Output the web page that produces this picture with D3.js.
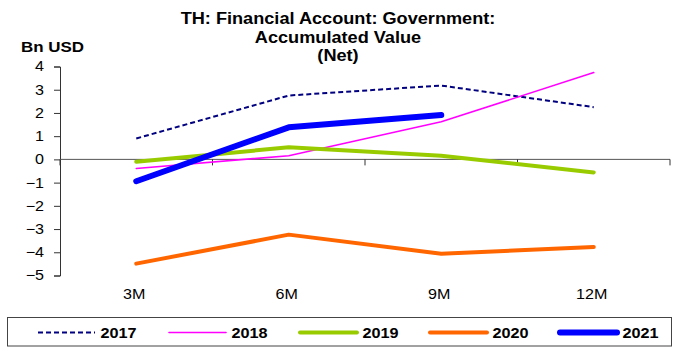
<!DOCTYPE html>
<html>
<head>
<meta charset="utf-8">
<script src="https://cdn.jsdelivr.net/npm/d3@7"></script>
<style>
  body { margin: 0; background: #fff; }
  svg { display: block; font-family: "Liberation Sans", Arial, sans-serif; }
</style>
</head>
<body>
<svg id="chart" width="676" height="352"></svg>
<script>
// Quarterly accumulated values, Bn USD
const periods = ["3M", "6M", "9M", "12M"];
const yTicks = [4, 3, 2, 1, 0, -1, -2, -3, -4, -5];
const years = ["2017", "2018", "2019", "2020", "2021"];
const v2017 = [0.9, 2.75, 3.18, 2.25];
const v2018 = [-0.39, 0.16, 1.62, 3.74];
const v2019 = [-0.1, 0.52, 0.16, -0.56];
const v2020 = [-4.49, -3.24, -4.06, -3.77];
const v2021 = [-0.94, 1.38, 1.91];

const seriesStyle = [
  { name: "2017", values: v2017, color: "#000080", width: 2, dash: "5,3" },
  { name: "2018", values: v2018, color: "#ff00ff", width: 1.6, dash: null },
  { name: "2019", values: v2019, color: "#99cc00", width: 4, dash: null },
  { name: "2020", values: v2020, color: "#ff6600", width: 4, dash: null },
  { name: "2021", values: v2021, color: "#0000ff", width: 6, dash: null }
];

const svg = d3.select("#chart");
const plotLeft = 60, plotRight = 670, plotTop = 66.5, plotBottom = 275.5;

const x = d3.scaleBand().domain(periods).range([plotLeft, plotRight]);
const y = d3.scaleLinear().domain([-5, 4]).range([plotBottom, plotTop]);

// Widen text horizontally, keeping its anchor point in place
function widen(sel, k) {
  sel.each(function () {
    const t = d3.select(this);
    const tx = +t.attr("x") || 0, ty = +t.attr("y") || 0;
    t.attr("x", 0).attr("y", 0)
      .attr("transform", `translate(${tx},${ty}) scale(${k},1)`);
  });
}

// Title
const title = svg.append("text").attr("text-anchor", "middle")
  .attr("font-weight", "bold").attr("font-size", 16.5).attr("fill", "#000")
  .attr("transform", "translate(338,0) scale(1.1,1)");
["TH: Financial Account: Government:", "Accumulated Value", "(Net)"].forEach((t, i) => {
  title.append("tspan").attr("x", 0).attr("y", [24, 43.5, 61.5][i]).text(t);
});

// Unit label
svg.append("text").attr("x", 21).attr("y", 52)
  .attr("font-weight", "bold").attr("font-size", 15).text("Bn USD")
  .call(widen, 1.13);

// Y axis
const yAxis = svg.append("g").attr("transform", `translate(${plotLeft},0)`)
  .call(d3.axisLeft(y).tickValues(yTicks).tickSize(6).tickPadding(10).tickFormat(d3.format("d")));
yAxis.select(".domain").attr("stroke", "#333");
yAxis.selectAll(".tick line").attr("stroke", "#333");
yAxis.selectAll(".tick text").attr("font-size", 14).attr("fill", "#000")
  .attr("font-family", "Liberation Sans, Arial, sans-serif")
  .call(widen, 1.15);

// X axis along zero, ticks at category boundaries
const xAxisG = svg.append("g").attr("transform", `translate(0,${y(0)})`);
xAxisG.append("line").attr("x1", plotLeft).attr("x2", plotRight)
  .attr("stroke", "#555").attr("stroke-width", 1);
const bounds = periods.map(p => x(p)).concat([x(periods[periods.length - 1]) + x.bandwidth()]);
xAxisG.selectAll("line.tk").data(bounds).join("line").attr("class", "tk")
  .attr("x1", d => d).attr("x2", d => d).attr("y1", 0).attr("y2", 6)
  .attr("stroke", "#333");

// Category labels at bottom
svg.append("g").selectAll("text").data(periods).join("text")
  .attr("x", d => x(d) + x.bandwidth() / 2 - 2).attr("y", 299)
  .attr("text-anchor", "middle").attr("font-size", 14).text(d => d)
  .call(widen, 1.15);

// Lines
const line = d3.line()
  .x((d, i) => x(periods[i]) + x.bandwidth() / 2)
  .y(d => y(d));

svg.append("g").selectAll("path").data(seriesStyle).join("path")
  .attr("d", s => line(s.values))
  .attr("fill", "none")
  .attr("stroke", s => s.color)
  .attr("stroke-width", s => s.width)
  .attr("stroke-dasharray", s => s.dash)
  .attr("stroke-linejoin", "round")
  .attr("stroke-linecap", s => s.dash ? "butt" : "round");

// Legend
const lg = svg.append("g");
lg.append("rect").attr("x", 7.5).attr("y", 317.5).attr("width", 664).attr("height", 28.5)
  .attr("fill", "#fff").attr("stroke", "#444").attr("stroke-width", 1);
const legendX = [38, 169, 300, 430, 560];
seriesStyle.forEach((s, i) => {
  const g = lg.append("g").attr("transform", `translate(${legendX[i]},332.5)`);
  g.append("line").attr("x1", 0).attr("x2", 57)
    .attr("stroke", s.color).attr("stroke-width", s.width)
    .attr("stroke-dasharray", s.dash)
    .attr("stroke-linecap", s.dash ? "butt" : "round");
  g.append("text").attr("x", 62.5).attr("y", 5.3).attr("font-weight", "bold")
    .attr("font-size", 15).text(years[i])
    .call(widen, 1.08);
});
</script>
</body>
</html>
